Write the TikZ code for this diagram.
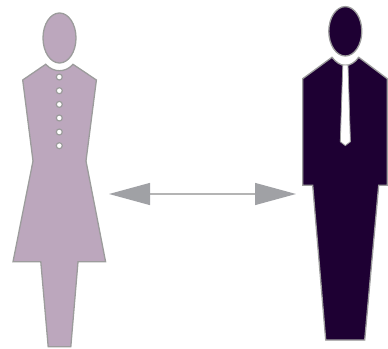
\documentclass[tikz,border=0pt]{standalone}
\usetikzlibrary{arrows.meta}
\definecolor{womanfill}{HTML}{BCA7BD}
\definecolor{manfill}{HTML}{1E0033}
\definecolor{edgegray}{HTML}{9C9C9C}
\definecolor{arrowgray}{HTML}{A0A1A5}
\definecolor{shaftgray}{HTML}{B4B4B4}
\tikzset{
  woman/.style={draw=edgegray,fill=womanfill,line width=1.3pt,line join=miter},
  man/.style={draw=edgegray,fill=manfill,line width=1.3pt,line join=miter},
  buttondot/.style={circle,draw=edgegray,fill=white,line width=1.2pt,minimum size=6pt,inner sep=0pt},
  tiewhite/.style={draw=edgegray,fill=white,line width=0.8pt},
  link/.style={draw=shaftgray,line width=1.3pt,{Triangle[length=41pt,width=22pt,color=arrowgray]}-{Triangle[length=41pt,width=22pt,color=arrowgray]}}
}
\begin{document}
\begin{tikzpicture}[x=1pt,y=-1pt]
\useasboundingbox (0,0) rectangle (388,348);
% woman
\draw[woman] (59.5,38) ellipse [x radius=16.5,y radius=25];
\draw[woman] (45.7,64.3) .. controls (50,69) and (55,70.7) .. (59.4,70.7) .. controls (64,70.7) and (69,69) .. (73,64.3)
  -- (96.4,80) -- (86,161) -- (105.6,261.8) -- (78,261.8) -- (70.8,346.8) -- (48.2,346.8) -- (40.8,261.8) -- (13,261.8) -- (33,161) -- (22.7,80) -- cycle;
\node[buttondot] (b1) at (59.3,77) {};
\node[buttondot] (b2) at (59.3,90.7) {};
\node[buttondot] (b3) at (59.3,104.4) {};
\node[buttondot] (b4) at (59.3,118) {};
\node[buttondot] (b5) at (59.3,132) {};
\node[buttondot] (b6) at (59.3,145.7) {};
% man
\draw[man] (345.3,31.3) ellipse [x radius=16.5,y radius=24.7];
\draw[man] (332,57.3) .. controls (336,62.5) and (341,65.5) .. (345.3,65.5) .. controls (350,65.5) and (355,62.5) .. (358.7,57.3)
  -- (387.2,78.7) -- (387.2,185.3) -- (378.7,185.3) -- (364.7,340) -- (325.7,340) -- (312.7,185.3) -- (302.7,185.3) -- (302.7,78.7) -- cycle;
\draw[tiewhite] (342.8,65) -- (348,65) -- (350.4,141.7) -- (345.3,145.6) -- (340.3,141.7) -- cycle;
% arrow
\coordinate (left) at (109,194);
\coordinate (right) at (296,194);
\draw[link] (left) -- (right);
\end{tikzpicture}
\end{document}
